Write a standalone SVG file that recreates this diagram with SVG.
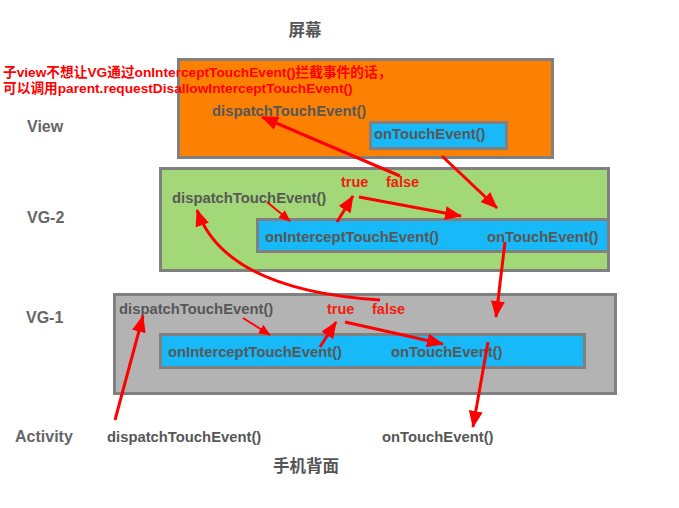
<svg xmlns="http://www.w3.org/2000/svg" width="679" height="508" viewBox="0 0 679 508">
<defs>
<style>
.lbl{font-family:"Liberation Sans",Arial,sans-serif;font-weight:bold;font-size:14.8px;fill:#575757}
.side{font-family:"Liberation Sans",Arial,sans-serif;font-weight:bold;font-size:16px;fill:#666}
.cjk{font-family:"Liberation Sans","Noto Sans CJK SC",sans-serif;font-weight:bold;font-size:16.5px;fill:#555}
.red{font-family:"Liberation Sans",Arial,sans-serif;font-weight:bold;font-size:14.5px;fill:#f31b0e}
.note{font-family:"Liberation Sans","Noto Sans CJK SC",sans-serif;font-weight:bold;font-size:13.7px;fill:#ff0000}
.box{stroke:#808080;stroke-width:3}
.inner{fill:#17b9f8;stroke:#808080;stroke-width:3}
.arr{fill:none;stroke:#ff0000;stroke-width:3;marker-end:url(#ah)}
.thin{fill:none;stroke:#ff0000;stroke-width:2;marker-end:url(#ahs)}
</style>
<marker id="ah" markerUnits="userSpaceOnUse" markerWidth="17" markerHeight="14" refX="16" refY="7" orient="auto"><path d="M0,0 L17,7 L0,14 z" fill="#ff0000"/></marker>
<marker id="ahs" markerUnits="userSpaceOnUse" markerWidth="12" markerHeight="10" refX="11" refY="5" orient="auto"><path d="M0,0 L12,5 L0,10 z" fill="#ff0000"/></marker>
</defs>
<rect width="679" height="508" fill="#fff"/>
<text class="cjk" x="305" y="36" text-anchor="middle">屏幕</text>
<text class="cjk" x="273" y="472">手机背面</text>
<text class="side" x="27" y="132">View</text>
<text class="side" x="27" y="223">VG-2</text>
<text class="side" x="26" y="323">VG-1</text>
<text class="side" x="15" y="442">Activity</text>
<g id="view">
<rect class="box" x="178.5" y="59.5" width="374" height="98" fill="#fc8103"/>
<text class="lbl" x="212" y="116">dispatchTouchEvent()</text>
<rect class="inner" x="370.5" y="122.5" width="136" height="26"/>
<text class="lbl" x="374" y="139">onTouchEvent()</text>
</g>
<g id="vg2">
<rect class="box" x="160.5" y="168.5" width="448" height="102" fill="#a3d879"/>
<text class="lbl" x="172" y="203">dispatchTouchEvent()</text>
<text class="red" x="341" y="187">true</text>
<text class="red" x="386" y="187">false</text>
<rect class="inner" x="257.5" y="219.5" width="351" height="32"/>
<text class="lbl" x="265" y="242">onInterceptTouchEvent()</text>
<text class="lbl" x="487" y="242">onTouchEvent()</text>
</g>
<g id="vg1">
<rect class="box" x="114.5" y="294.5" width="501" height="99" fill="#b3b3b3"/>
<text class="lbl" x="119" y="314">dispatchTouchEvent()</text>
<text class="red" x="327" y="314">true</text>
<text class="red" x="372" y="314">false</text>
<rect class="inner" x="160.5" y="334.5" width="424" height="33"/>
<text class="lbl" x="168" y="357">onInterceptTouchEvent()</text>
<text class="lbl" x="391" y="357">onTouchEvent()</text>
</g>
<g id="activity">
<text class="lbl" x="107" y="442">dispatchTouchEvent()</text>
<text class="lbl" x="382" y="442">onTouchEvent()</text>
</g>
<g id="note">
<text class="note" x="3" y="77">子view不想让VG通过onInterceptTouchEvent()拦截事件的话，</text>
<text class="note" x="3" y="93">可以调用parent.requestDisallowInterceptTouchEvent()</text>
</g>
<g id="connectors">
<path class="arr" d="M400,176 L262,117"/>
<path class="arr" d="M442,156 L497,208"/>
<path class="thin" d="M267,202 L290,221"/>
<path class="arr" d="M337,222 L353,196"/>
<path class="arr" d="M359,197 L461,216"/>
<path class="arr" d="M380,300 Q225,290 197,210"/>
<path class="arr" d="M505,242 L496,317"/>
<path class="thin" d="M243,318 L270,335"/>
<path class="arr" d="M320,347 L336,322"/>
<path class="arr" d="M345,322 L443,344"/>
<path class="arr" d="M488,342 L473,427"/>
<path class="arr" d="M115,420 L143,316"/>
</g>
</svg>
